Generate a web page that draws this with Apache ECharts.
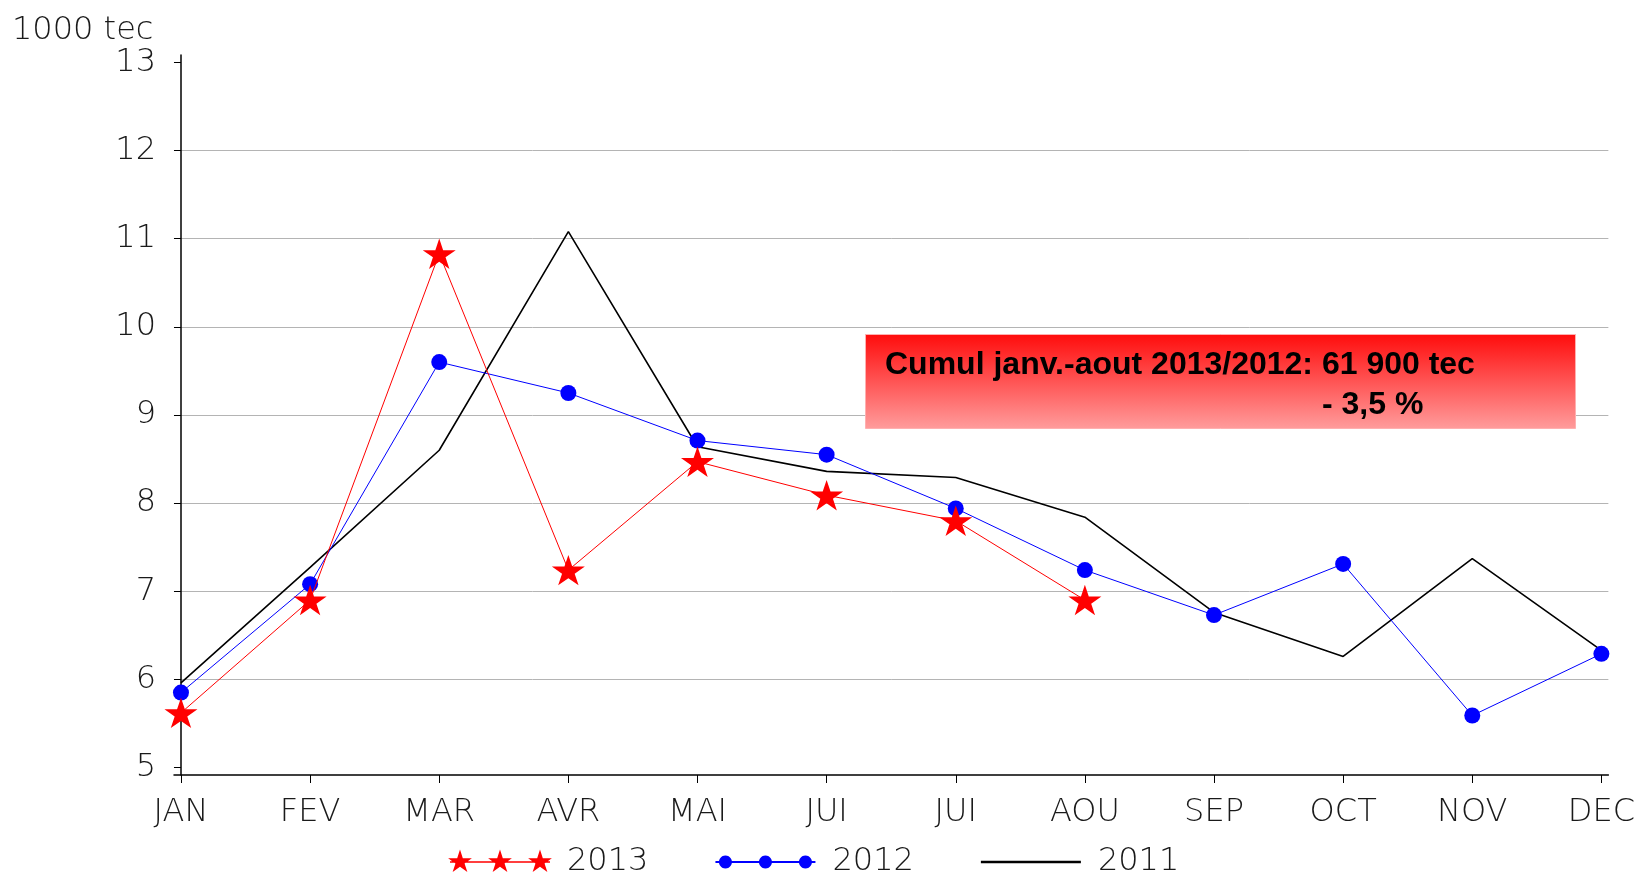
<!DOCTYPE html>
<html>
<head>
<meta charset="utf-8">
<script src="https://cdn.jsdelivr.net/npm/echarts@6/dist/echarts.min.js"></script>
<style>
html,body{margin:0;padding:0;background:#fff;}
#chart{width:1638px;height:875px;}
</style>
</head>
<body>
<div id="chart"></div>
<script>
const months = ['JAN','FEV','MAR','AVR','MAI','JUI','JUI','AOU','SEP','OCT','NOV','DEC'];
const yTicks = [5,6,7,8,9,10,11,12,13];
const values2013 = [5.62, 6.90, 10.83, 7.24, 8.47, 8.09, 7.80, 6.90];
const values2012 = [5.85, 7.08, 9.60, 9.25, 8.71, 8.55, 7.94, 7.24, 6.73, 7.31, 5.59, 6.29];
const values2011 = [5.96, 7.27, 8.60, 11.08, 8.64, 8.36, 8.29, 7.84, 6.76, 6.26, 7.37, 6.33];
const seriesNames = ['2013','2012','2011'];
const unitLabel = '1000 tec';
const noteLine1 = 'Cumul janv.-aout 2013/2012: 61 900 tec';
const noteLine2 = '- 3,5 %';

const FONT = '"DejaVu Sans", sans-serif';
const LABEL_COLOR = '#1a1a1a';

// star outline (unit box 0..100)
const starPts = [];
for (let k = 0; k < 10; k++) {
  const a = (-90 + k * 36) * Math.PI / 180;
  const r = (k % 2 === 0) ? 50 : 19.1;
  starPts.push([50 + r * Math.cos(a), 50 + r * Math.sin(a)]);
}
function starPath(ox, oy, s) {
  return 'M' + starPts.map(p => (ox + p[0] * s).toFixed(2) + ',' + (oy + p[1] * s).toFixed(2)).join('L') + 'Z';
}
function dotPath(cx, cy, r) {
  const pts = [];
  for (let k = 0; k < 24; k++) {
    const a = k * 15 * Math.PI / 180;
    pts.push((cx + r * Math.cos(a)).toFixed(2) + ',' + (cy + r * Math.sin(a)).toFixed(2));
  }
  return 'M' + pts.join('L') + 'Z';
}
const starSymbol = 'path://' + starPath(0, 0, 1);
const anchors = 'M-2,0L-1.999,0Z M102,25L102.001,25Z ';
const legendIcon2013 = 'path://' + anchors + 'M0,11.8L100,11.8L100,13.2L0,13.2Z ' +
  starPath(-2.5, 0, 0.25) + ' ' + starPath(37.5, 0, 0.25) + ' ' + starPath(77.5, 0, 0.25);
const legendIcon2012 = 'path://' + anchors + 'M0,11.5L100,11.5L100,13.5L0,13.5Z ' +
  dotPath(10, 12.5, 6.5) + ' ' + dotPath(50, 12.5, 6.5) + ' ' + dotPath(90, 12.5, 6.5);
const legendIcon2011 = 'path://' + anchors + 'M0,11.3L100,11.3L100,13.7L0,13.7Z';

const toPairs = arr => arr.map((v, i) => [i, v]);

const chart = echarts.init(document.getElementById('chart'), null, {renderer: 'canvas'});
chart.setOption({
  backgroundColor: '#fff',
  animation: false,
  title: {
    text: unitLabel,
    left: 7, top: 10,
    textStyle: {fontFamily: FONT, fontWeight: 200, fontSize: 32, color: LABEL_COLOR}
  },
  grid: {left: 174, right: 28, top: 55, bottom: 100, containLabel: false},
  xAxis: {
    type: 'value',
    min: -0.054, max: 11.054,
    splitNumber: 11,
    axisLine: {show: true, lineStyle: {color: '#000', width: 1.5}},
    axisTick: {show: true, length: 8, lineStyle: {color: '#000', width: 1}, customValues: months.map((m, i) => i)},
    axisLabel: {
      show: true, margin: 22,
      customValues: months.map((m, i) => i),
      formatter: v => months[v] !== undefined ? months[v] : '',
      fontFamily: FONT, fontWeight: 200, fontSize: 32, color: LABEL_COLOR
    },
    splitLine: {show: false}
  },
  yAxis: {
    type: 'value',
    min: 4.915, max: 13.085,
    splitNumber: 8,
    axisLine: {show: true, lineStyle: {color: '#000', width: 1.5}},
    axisTick: {show: true, length: 7, lineStyle: {color: '#000', width: 1}, customValues: yTicks},
    axisLabel: {
      margin: 18,
      customValues: yTicks,
      formatter: v => String(v),
      fontFamily: FONT, fontWeight: 200, fontSize: 32, color: LABEL_COLOR
    },
    splitLine: {show: true, showMinLine: false, showMaxLine: false, lineStyle: {color: '#b4b4b4', width: 1}}
  },
  legend: {
    left: 443, top: 841,
    itemWidth: 104, itemHeight: 25, itemGap: 65,
    textStyle: {fontFamily: FONT, fontWeight: 200, fontSize: 32, color: LABEL_COLOR, padding: [0, 0, 0, 10]},
    data: [
      {name: seriesNames[0], icon: legendIcon2013, itemStyle: {color: '#ff0000', borderWidth: 0}},
      {name: seriesNames[1], icon: legendIcon2012, itemStyle: {color: '#0000ff', borderWidth: 0}},
      {name: seriesNames[2], icon: legendIcon2011, itemStyle: {color: '#000000', borderWidth: 0}}
    ]
  },
  series: [
    {
      name: seriesNames[2], type: 'line', data: toPairs(values2011),
      showSymbol: false, symbol: 'none',
      lineStyle: {color: '#000', width: 1.6},
      itemStyle: {color: '#000'}, z: 2
    },
    {
      name: seriesNames[1], type: 'line', data: toPairs(values2012),
      symbol: 'circle', symbolSize: 16,
      lineStyle: {color: '#0000ff', width: 1},
      itemStyle: {color: '#0000ff'}, z: 3
    },
    {
      name: seriesNames[0], type: 'line', data: toPairs(values2013),
      symbol: starSymbol, symbolSize: [33, 32], symbolKeepAspect: true,
      lineStyle: {color: '#ff0000', width: 1},
      itemStyle: {color: '#ff0000'}, z: 4
    }
  ],
  graphic: [
    {
      type: 'rect', left: 865, top: 334, z: 10,
      shape: {width: 710, height: 94},
      style: {
        fill: new echarts.graphic.LinearGradient(0, 0, 0, 1, [
          {offset: 0, color: '#ff0c0c'},
          {offset: 1, color: '#ff9c9c'}
        ]),
        stroke: '#ffb0b0', lineWidth: 1
      }
    },
    {
      type: 'text', left: 885, top: 349, z: 11,
      style: {text: noteLine1, fontFamily: '"Liberation Sans", Arial, sans-serif', fontWeight: 'bold', fontSize: 32, fill: '#000'}
    },
    {
      type: 'text', left: 1322, top: 389, z: 11,
      style: {text: noteLine2, fontFamily: '"Liberation Sans", Arial, sans-serif', fontWeight: 'bold', fontSize: 32, fill: '#000'}
    }
  ]
});
</script>
</body>
</html>
